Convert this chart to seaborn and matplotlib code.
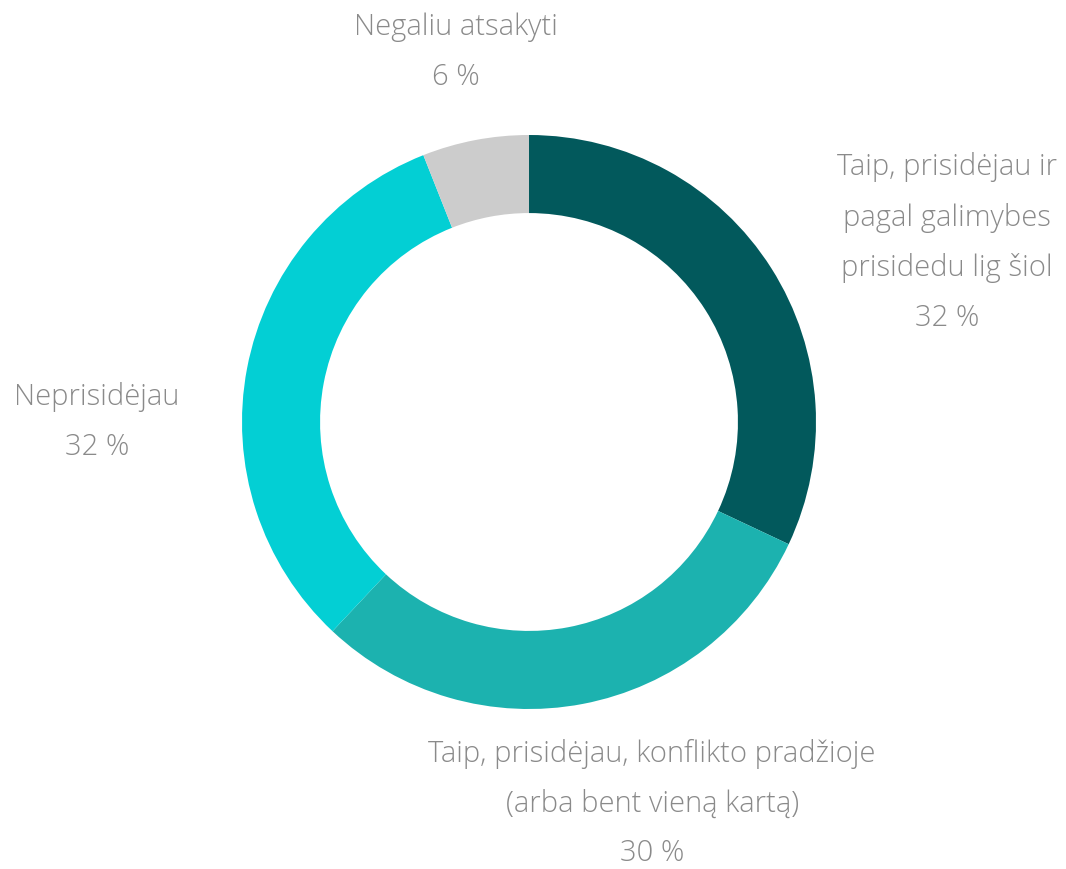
import matplotlib
matplotlib.use("Agg")
import matplotlib.pyplot as plt
import seaborn as sns

# Data
labels = [
    "Taip, prisidėjau ir\npagal galimybes\nprisidedu lig šiol",
    "Taip, prisidėjau, konflikto pradžioje\n(arba bent vieną kartą)",
    "Neprisidėjau",
    "Negaliu atsakyti",
]
shares = [32, 30, 32, 6]
colors = ["#02595C", "#1CB2AF", "#03CFD4", "#CCCCCC"]

# label centres in pie units (radius = 1)
label_pos = [(1.456, 0.625), (0.429, -1.33), (-1.505, 0.0), (-0.254, 1.289)]

sns.set_theme(style="white")
plt.rcParams['font.family'] = ['Open Sans', 'DejaVu Sans']

fig = plt.figure(figsize=(10.66, 8.69), dpi=100)
ax = fig.add_axes([0, 0, 1, 1])

ax.pie(shares, colors=colors, startangle=90, counterclock=False,
       radius=1.0, wedgeprops=dict(width=0.272, edgecolor="none"))

for lab, val, (x, y) in zip(labels, shares, label_pos):
    ax.text(x, y, f"{lab}\n{val} %", ha="center", va="center",
            fontsize=21, fontweight="light", color="#8A8A8A",
            linespacing=1.9)

ax.set_xlim(-529 / 287, (1066 - 529) / 287)
ax.set_ylim(-447 / 287, 422 / 287)
ax.set_aspect("equal")
ax.axis("off")

fig.savefig("out.png", dpi=100, facecolor="white")
